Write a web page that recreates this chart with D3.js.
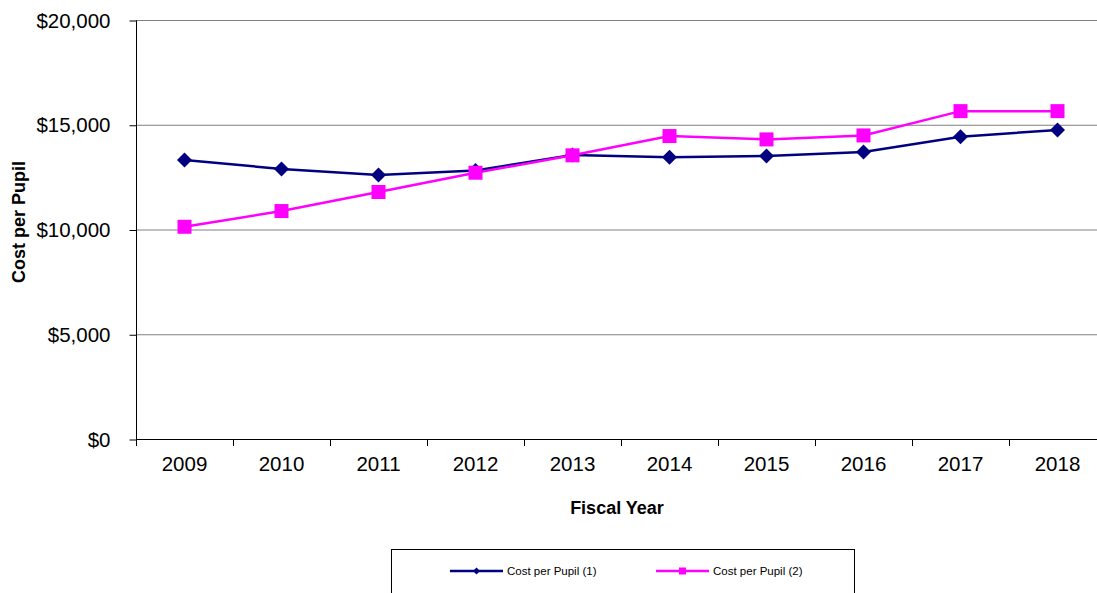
<!DOCTYPE html>
<html><head><meta charset="utf-8">
<script src="https://cdn.jsdelivr.net/npm/d3@7"></script>
<style>body{margin:0;background:#fff;overflow:hidden}svg{display:block;font-family:"Liberation Sans",Arial,sans-serif}</style>
</head><body>
<svg id="c" width="1097" height="593"></svg>
<script>
const years = ["2009","2010","2011","2012","2013","2014","2015","2016","2017","2018"];
const series1 = [13320,12890,12600,12820,13560,13450,13510,13700,14430,14750];
const series2 = [10130,10880,11790,12710,13540,14460,14300,14490,15650,15650];
const seriesNames = ["Cost per Pupil (1)","Cost per Pupil (2)"];
const yTicks = [0,5000,10000,15000,20000];

const svg = d3.select("#c");
const plotLeft = 136, plotTop = 20, plotW = 970, plotH = 419;
const x = d3.scaleBand().domain(years).range([plotLeft, plotLeft + plotW]);
const y = d3.scaleLinear().domain([0,20000]).range([plotTop + plotH, plotTop]);

// gridlines
svg.append("g").selectAll("line").data(yTicks.filter(d=>d>0)).join("line")
  .attr("x1", plotLeft).attr("x2", plotLeft + plotW)
  .attr("y1", d=>y(d)+0.5).attr("y2", d=>y(d)+0.5)
  .attr("stroke", "#808080").attr("stroke-width", 1);

// y axis
const yAxis = d3.axisLeft(y).tickValues(yTicks).tickSize(7).tickPadding(19)
  .tickFormat(d => "$" + d3.format(",")(d));
const gy = svg.append("g").attr("transform", `translate(${plotLeft+0.5},0.5)`).call(yAxis);
gy.select(".domain").attr("stroke","#000").attr("d", `M0,${y(20000)}V${y(0)}`);
gy.selectAll(".tick line").attr("stroke","#000");
gy.selectAll("text").attr("font-size", 20.5).attr("fill","#000").attr("font-family","Liberation Sans, Arial, sans-serif");

// x axis
const xAxis = d3.axisBottom(x).tickSize(0).tickPadding(17);
const gx = svg.append("g").attr("transform", `translate(0,${y(0)+0.5})`).call(xAxis);
gx.select(".domain").attr("stroke","#000").attr("d", `M${plotLeft},0H${plotLeft+plotW}`);
gx.selectAll("text").attr("font-size", 20.5).attr("fill","#000").attr("font-family","Liberation Sans, Arial, sans-serif");
// category boundary ticks
svg.append("g").selectAll("line").data(years).join("line")
  .attr("x1", d=>Math.round(x(d))+0.5).attr("x2", d=>Math.round(x(d))+0.5)
  .attr("y1", y(0)).attr("y2", y(0)+7).attr("stroke","#000");

const cx = d => x(d) + x.bandwidth()/2;
const line = d3.line().x((d,i)=>cx(years[i])).y(d=>y(d));

// series 1
svg.append("path").datum(series1).attr("d", line).attr("fill","none")
  .attr("stroke","#000080").attr("stroke-width",2.5);
// series 2
svg.append("path").datum(series2).attr("d", line).attr("fill","none")
  .attr("stroke","#FF00FF").attr("stroke-width",2.5);

const diamond = (s) => `M0,${-s}L${s},0L0,${s}L${-s},0Z`;
svg.append("g").selectAll("path").data(series1).join("path")
  .attr("transform",(d,i)=>`translate(${cx(years[i])},${y(d)})`)
  .attr("d", diamond(7.5)).attr("fill","#000080");
svg.append("g").selectAll("rect").data(series2).join("rect")
  .attr("x",(d,i)=>cx(years[i])-7).attr("y",d=>y(d)-7)
  .attr("width",14).attr("height",14).attr("fill","#FF00FF");

// axis titles
svg.append("text").attr("x", 617).attr("y", 514)
  .attr("text-anchor","middle").attr("font-size",18).attr("font-weight","bold").text("Fiscal Year");
svg.append("text").attr("transform",`translate(25,222) rotate(-90)`)
  .attr("text-anchor","middle").attr("font-size",18).attr("font-weight","bold").text("Cost per Pupil");

// legend
const lg = svg.append("g");
lg.append("rect").attr("x",391.5).attr("y",549.5).attr("width",463).attr("height",60)
  .attr("fill","#fff").attr("stroke","#000").attr("stroke-width",1);
const lItems = [{x:450, c:"#000080", t:seriesNames[0], m:"d"},{x:656, c:"#FF00FF", t:seriesNames[1], m:"s"}];
lItems.forEach(it=>{
  lg.append("line").attr("x1",it.x).attr("x2",it.x+53).attr("y1",571).attr("y2",571)
    .attr("stroke",it.c).attr("stroke-width",2.5);
  if(it.m==="d") lg.append("path").attr("transform",`translate(${it.x+26.5},571)`).attr("d",diamond(3.5)).attr("fill",it.c);
  else lg.append("rect").attr("x",it.x+23).attr("y",567.5).attr("width",7).attr("height",7).attr("fill",it.c);
  lg.append("text").attr("x",it.x+57).attr("y",575).attr("font-size",11.5).attr("fill","#000").text(it.t);
});
</script>
</body></html>
